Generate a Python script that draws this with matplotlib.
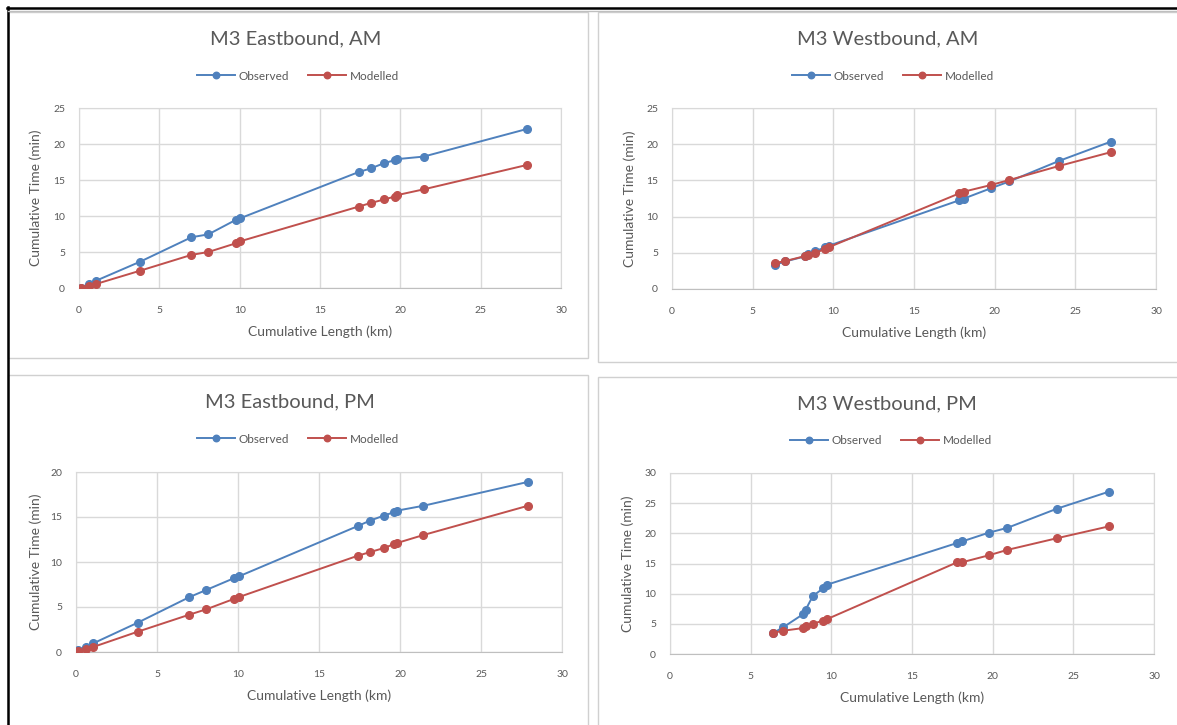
import matplotlib

matplotlib.use("Agg")
import matplotlib.pyplot as plt
from matplotlib.patches import Rectangle

# cumulative length along the route (km)
eb_km = [0.1, 0.6, 1.05, 3.8, 7.0, 8.05, 9.75, 10.05, 17.4, 18.15, 19.0, 19.65, 19.8, 21.45, 27.9]
wb_km = [6.4, 7.0, 8.25, 8.4, 8.85, 9.5, 9.75, 17.8, 18.1, 19.75, 20.9, 24.0, 27.2]

# cumulative time (min)
eb_am_obs = [0.0, 0.6, 1.0, 3.65, 7.05, 7.45, 9.45, 9.7, 16.1, 16.6, 17.35, 17.75, 17.9, 18.25, 22.1]
eb_am_mod = [0.0, 0.3, 0.55, 2.4, 4.6, 5.0, 6.2, 6.5, 11.3, 11.8, 12.3, 12.7, 12.9, 13.7, 17.1]
wb_am_obs = [3.35, 3.8, 4.5, 4.8, 5.2, 5.75, 6.0, 12.25, 12.5, 13.9, 14.85, 17.7, 20.35]
wb_am_mod = [3.6, 3.85, 4.55, 4.65, 5.0, 5.5, 5.8, 13.2, 13.45, 14.35, 15.05, 17.0, 18.9]
eb_pm_obs = [0.2, 0.55, 0.95, 3.25, 6.1, 6.9, 8.2, 8.4, 14.0, 14.6, 15.15, 15.55, 15.7, 16.25, 18.9]
eb_pm_mod = [0.1, 0.3, 0.55, 2.25, 4.15, 4.75, 5.9, 6.1, 10.7, 11.1, 11.55, 12.0, 12.1, 13.0, 16.25]
wb_pm_obs = [3.5, 4.4, 6.6, 7.3, 9.6, 10.9, 11.5, 18.4, 18.65, 20.1, 20.9, 24.1, 26.9]
wb_pm_mod = [3.5, 3.85, 4.3, 4.6, 5.0, 5.55, 5.8, 15.2, 15.2, 16.35, 17.25, 19.2, 21.15]

titles = ["M3 Eastbound, AM", "M3 Westbound, AM", "M3 Eastbound, PM", "M3 Westbound, PM"]
y_max = [25, 25, 20, 30]

W, H = 1177, 725
BLUE = "#4F81BD"
RED = "#C0504D"
TXT = "#595959"
GRID = "#D9D9D9"

plt.rcParams["font.family"] = ["Lato", "DejaVu Sans"]

fig = plt.figure(figsize=(W / 100, H / 100), dpi=100)


def fx(px):
    return px / W


def fy(py):
    return 1 - py / H


# panel frames (pixel boxes: left, top, right, bottom)
frames = [(8, 12, 588, 358), (598, 12, 1180, 362), (8, 375, 588, 730), (598, 377, 1180, 730)]
for l, t, r, b in frames:
    fig.patches.append(Rectangle((fx(l), fy(b)), fx(r - l), (b - t) / H, transform=fig.transFigure,
                                 facecolor="white", edgecolor="#D0D0D0", linewidth=1.0, zorder=-5))
# screenshot edge lines
fig.add_artist(plt.Line2D([fx(7), fx(1177)], [fy(7.5), fy(7.5)], color="black", linewidth=1.8))
fig.add_artist(plt.Line2D([fx(7.5), fx(7.5)], [fy(7), fy(725)], color="black", linewidth=1.8))
fig.add_artist(plt.Line2D([fx(8), fx(1177)], [fy(11), fy(11)], color="#BFBFBF", linewidth=1.0))

# plot areas (left, top, right, bottom) in pixels
areas = [(79, 108, 561, 288), (672, 108, 1156, 289), (76, 472, 562, 652), (670, 473, 1154, 654)]
title_pos = [(296, 39), (888, 39), (290, 402), (887, 404)]
legend_pos = [(298, 76), (893, 76), (298, 439), (891, 441)]
ylabel_x = [36, 630, 36, 628]

series = [
    (eb_km, eb_am_obs, eb_am_mod),
    (wb_km, wb_am_obs, wb_am_mod),
    (eb_km, eb_pm_obs, eb_pm_mod),
    (wb_km, wb_pm_obs, wb_pm_mod),
]

for i, (km, obs, mod) in enumerate(series):
    l, t, r, b = areas[i]
    ax = fig.add_axes([fx(l), fy(b), (r - l) / W, (b - t) / H])
    ax.plot(km, obs, color=BLUE, marker="o", markersize=5.5, linewidth=1.4, label="Observed", zorder=3)
    ax.plot(km, mod, color=RED, marker="o", markersize=5.5, linewidth=1.4, label="Modelled", zorder=4)
    ax.set_xlim(0, 30)
    ax.set_ylim(0, y_max[i])
    ax.set_xticks(range(0, 31, 5))
    ax.set_yticks(range(0, y_max[i] + 1, 5))
    ax.grid(True, color=GRID, linewidth=1.0)
    ax.set_axisbelow(True)
    for s in ax.spines.values():
        s.set_color(GRID)
    ax.spines["bottom"].set_color("#BFBFBF")
    ax.tick_params(length=0, labelsize=7.5, labelcolor=TXT)
    ax.tick_params(axis="x", pad=13)
    ax.tick_params(axis="y", pad=10)

    fig.text(fx(title_pos[i][0]), fy(title_pos[i][1]), titles[i], ha="center", va="center",
             fontsize=14.5, color=TXT)
    ax.legend(loc="center", bbox_to_anchor=(fx(legend_pos[i][0]), fy(legend_pos[i][1])),
              bbox_transform=fig.transFigure, ncol=2, frameon=False, fontsize=8.5,
              labelcolor=TXT, handlelength=3.2, columnspacing=1.6, handletextpad=0.3, markerscale=0.85)
    fig.text(fx((l + r) / 2), fy(b + 44), "Cumulative Length (km)", ha="center", va="center",
             fontsize=10, color=TXT)
    fig.text(fx(ylabel_x[i]), fy((t + b) / 2), "Cumulative Time (min)", ha="center", va="center",
             rotation=90, fontsize=10, color=TXT)

fig.savefig("out.png", dpi=100)
